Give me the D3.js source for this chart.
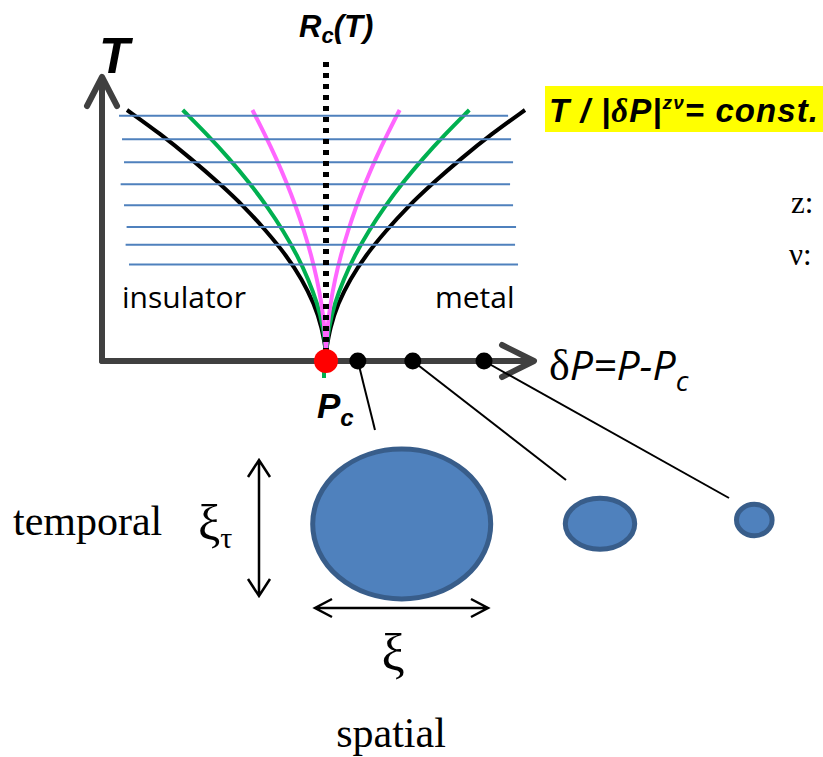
<!DOCTYPE html>
<html>
<head>
<meta charset="utf-8">
<script src="https://cdn.jsdelivr.net/npm/d3@7"></script>
<style>
  body { margin: 0; background: #fff; }
  svg { display: block; }
</style>
</head>
<body>
<div id="chart"></div>
<script>
var svgWidth = 823;
var svgHeight = 757;

// crossover curves (T normalised, deltaP normalised)
var curveT = [0, 0.1, 0.2, 0.3, 0.4, 0.5, 0.6, 0.7, 0.8, 0.9, 1.0];
var blackDP = [0, 0.02, 0.06, 0.12, 0.20, 0.30, 0.41, 0.54, 0.68, 0.83, 1.0];
var greenDP = [0, 0.013, 0.043, 0.088, 0.145, 0.214, 0.294, 0.386, 0.487, 0.599, 0.72];
var magentaDP = [0, 0.007, 0.022, 0.045, 0.074, 0.11, 0.151, 0.198, 0.25, 0.308, 0.37];

// horizontal constant-T lines
var isoT = [0.976, 0.879, 0.784, 0.693, 0.606, 0.517, 0.443, 0.362];
var isoStart = [-1.04, -1.025, -1.015, -1.032, -1.015, -1.002, -1.007, -0.99];
var isoEnd = [0.915, 0.93, 0.94, 0.925, 0.94, 0.955, 0.95, 0.965];

// points on the deltaP axis
var sampleDP = [0.16, 0.436, 0.794];
// correlation lengths (relative) for those points
var xiSpatial = [1, 0.39, 0.2];
var xiTemporal = [1, 0.34, 0.21];

var svg = d3.select("#chart")
  .append("svg")
  .attr("width", svgWidth)
  .attr("height", svgHeight);

var x = d3.scaleLinear().domain([-1, 1]).range([127, 525]);
var y = d3.scaleLinear().domain([0, 1]).range([352, 110]);
var rxScale = d3.scaleLinear().domain([0, 1]).range([0, 89]);
var ryScale = d3.scaleLinear().domain([0, 1]).range([0, 75]);

var axisY = 361;
var axisX = 102;

// curves (both branches)
var line = d3.line().x(d => x(d[0])).y(d => y(d[1])).curve(d3.curveBasis);
function branches(dp) {
  var right = curveT.map((t, i) => [dp[i], t]);
  var left = curveT.map((t, i) => [-dp[i], t]);
  return [left, right];
}
var curveSets = [
  { dp: blackDP, color: "#000000" },
  { dp: greenDP, color: "#00B050" },
  { dp: magentaDP, color: "#FF66FF" }
];
curveSets.forEach(function(c) {
  branches(c.dp).forEach(function(b) {
    svg.append("path")
      .attr("d", line(b))
      .attr("fill", "none")
      .attr("stroke", c.color)
      .attr("stroke-width", 4);
  });
});
// small green tail below the critical point
svg.append("line")
  .attr("x1", x(0) - 2).attr("x2", x(0) - 2)
  .attr("y1", y(0)).attr("y2", 378)
  .attr("stroke", "#00B050").attr("stroke-width", 4);

// blue iso-T lines
svg.selectAll("line.iso")
  .data(isoT)
  .enter()
  .append("line")
  .attr("class", "iso")
  .attr("x1", (d, i) => x(isoStart[i]))
  .attr("x2", (d, i) => x(isoEnd[i]))
  .attr("y1", d => y(d))
  .attr("y2", d => y(d))
  .attr("stroke", "#4F81BD")
  .attr("stroke-width", 2);

// Rc(T) dotted line
svg.append("line")
  .attr("x1", x(0)).attr("x2", x(0))
  .attr("y1", 62).attr("y2", 352)
  .attr("stroke", "#000").attr("stroke-width", 6)
  .attr("stroke-dasharray", "5,6");

// axes
var axisColor = "#404040";
svg.append("path")
  .attr("d", `M${axisX},${axisY} V78 M${axisX - 15},106 L${axisX},77 L${axisX + 15},106`)
  .attr("fill", "none").attr("stroke", axisColor).attr("stroke-width", 6)
  .attr("stroke-linecap", "round").attr("stroke-linejoin", "round");
svg.append("path")
  .attr("d", `M${axisX},${axisY} H533 M502,345 L534,${axisY} L502,377`)
  .attr("fill", "none").attr("stroke", axisColor).attr("stroke-width", 6)
  .attr("stroke-linecap", "round").attr("stroke-linejoin", "round");

// leader lines from sample points to ellipses
var ellCx = [401.7, 600, 754.3];
var ellCy = [524, 523.8, 520];
var leaderEnd = [[375, 430], [566, 480], [729, 498]];
svg.selectAll("line.leader")
  .data(sampleDP)
  .enter()
  .append("line")
  .attr("x1", d => x(d)).attr("y1", axisY)
  .attr("x2", (d, i) => leaderEnd[i][0])
  .attr("y2", (d, i) => leaderEnd[i][1])
  .attr("stroke", "#000").attr("stroke-width", 2);

// points
svg.selectAll("circle.pt")
  .data(sampleDP)
  .enter()
  .append("circle")
  .attr("cx", d => x(d)).attr("cy", axisY)
  .attr("r", 8.5).attr("fill", "#000");
svg.append("circle")
  .attr("cx", x(0)).attr("cy", axisY)
  .attr("r", 12).attr("fill", "#FF0000");

// ellipses
svg.selectAll("ellipse")
  .data(xiSpatial)
  .enter()
  .append("ellipse")
  .attr("cx", (d, i) => ellCx[i])
  .attr("cy", (d, i) => ellCy[i])
  .attr("rx", d => rxScale(d))
  .attr("ry", (d, i) => ryScale(xiTemporal[i]))
  .attr("fill", "#4F81BD")
  .attr("stroke", "#385D8A")
  .attr("stroke-width", 5);

// double arrows
svg.append("path")
  .attr("d", "M315,608 H488 M332,599 L315,608 L332,617 M471,599 L488,608 L471,617")
  .attr("fill", "none").attr("stroke", "#000").attr("stroke-width", 2.5);
svg.append("path")
  .attr("d", "M259,460 V596 M248,477 L259,460 L270,477 M248,579 L259,596 L270,579")
  .attr("fill", "none").attr("stroke", "#000").attr("stroke-width", 2.5);

// text
var boldIt = "'Liberation Sans', Arial, sans-serif";
var serif = "'Liberation Serif', 'Times New Roman', serif";
var sans = "'Open Sans', sans-serif";

svg.append("text").attr("x", 99).attr("y", 73)
  .attr("font-family", boldIt).attr("font-weight", "bold").attr("font-style", "italic")
  .attr("font-size", 50).text("T");

var rc = svg.append("text").attr("x", 299).attr("y", 37)
  .attr("font-family", boldIt).attr("font-weight", "bold").attr("font-style", "italic")
  .attr("font-size", 31);
rc.append("tspan").text("R");
rc.append("tspan").attr("font-size", 22).attr("dy", 6).text("c");
rc.append("tspan").attr("dy", -6).text("(T)");

svg.append("rect").attr("x", 545).attr("y", 86).attr("width", 278).attr("height", 46)
  .attr("fill", "#FFFF00");
var f = svg.append("text").attr("x", 549).attr("y", 122)
  .attr("font-family", boldIt).attr("font-weight", "bold").attr("font-style", "italic")
  .attr("font-size", 33).attr("textLength", 269).attr("lengthAdjust", "spacing");
f.append("tspan").text("T / |");
f.append("tspan").attr("font-family", serif).text("δ");
f.append("tspan").text("P|");
f.append("tspan").attr("font-size", 19).attr("dy", -13).text("zν");
f.append("tspan").attr("dy", 13).text("= const.");

svg.append("text").attr("x", 791).attr("y", 213)
  .attr("font-family", serif).attr("font-size", 31).text("z:");
svg.append("text").attr("x", 789).attr("y", 265)
  .attr("font-family", serif).attr("font-size", 31).text("ν:");

svg.append("text").attr("x", 122).attr("y", 308)
  .attr("font-family", sans).attr("font-size", 30).text("insulator");
svg.append("text").attr("x", 435).attr("y", 308)
  .attr("font-family", sans).attr("font-size", 30).text("metal");

var dp = svg.append("text").attr("x", 549).attr("y", 380)
  .attr("font-family", sans).attr("font-style", "italic").attr("font-size", 41);
dp.append("tspan").attr("font-family", serif).attr("font-style", "normal").attr("font-size", 44).text("δ");
dp.append("tspan").text("P=P-P");
dp.append("tspan").attr("font-size", 28).attr("dy", 11).text("c");

var pc = svg.append("text").attr("x", 317).attr("y", 418)
  .attr("font-family", boldIt).attr("font-weight", "bold").attr("font-style", "italic")
  .attr("font-size", 35);
pc.append("tspan").text("P");
pc.append("tspan").attr("font-size", 24).attr("dy", 8).text("c");

svg.append("text").attr("x", 13).attr("y", 535)
  .attr("font-family", serif).attr("font-size", 42).text("temporal");
var xt = svg.append("text").attr("x", 198).attr("y", 540)
  .attr("font-family", serif).attr("font-size", 50);
xt.append("tspan").text("ξ");
xt.append("tspan").attr("font-size", 30).attr("dy", 8).text("τ");

svg.append("text").attr("x", 393).attr("y", 670).attr("text-anchor", "middle")
  .attr("font-family", serif).attr("font-size", 52).text("ξ");
svg.append("text").attr("x", 391).attr("y", 747).attr("text-anchor", "middle")
  .attr("font-family", serif).attr("font-size", 42).text("spatial");
</script>
</body>
</html>
